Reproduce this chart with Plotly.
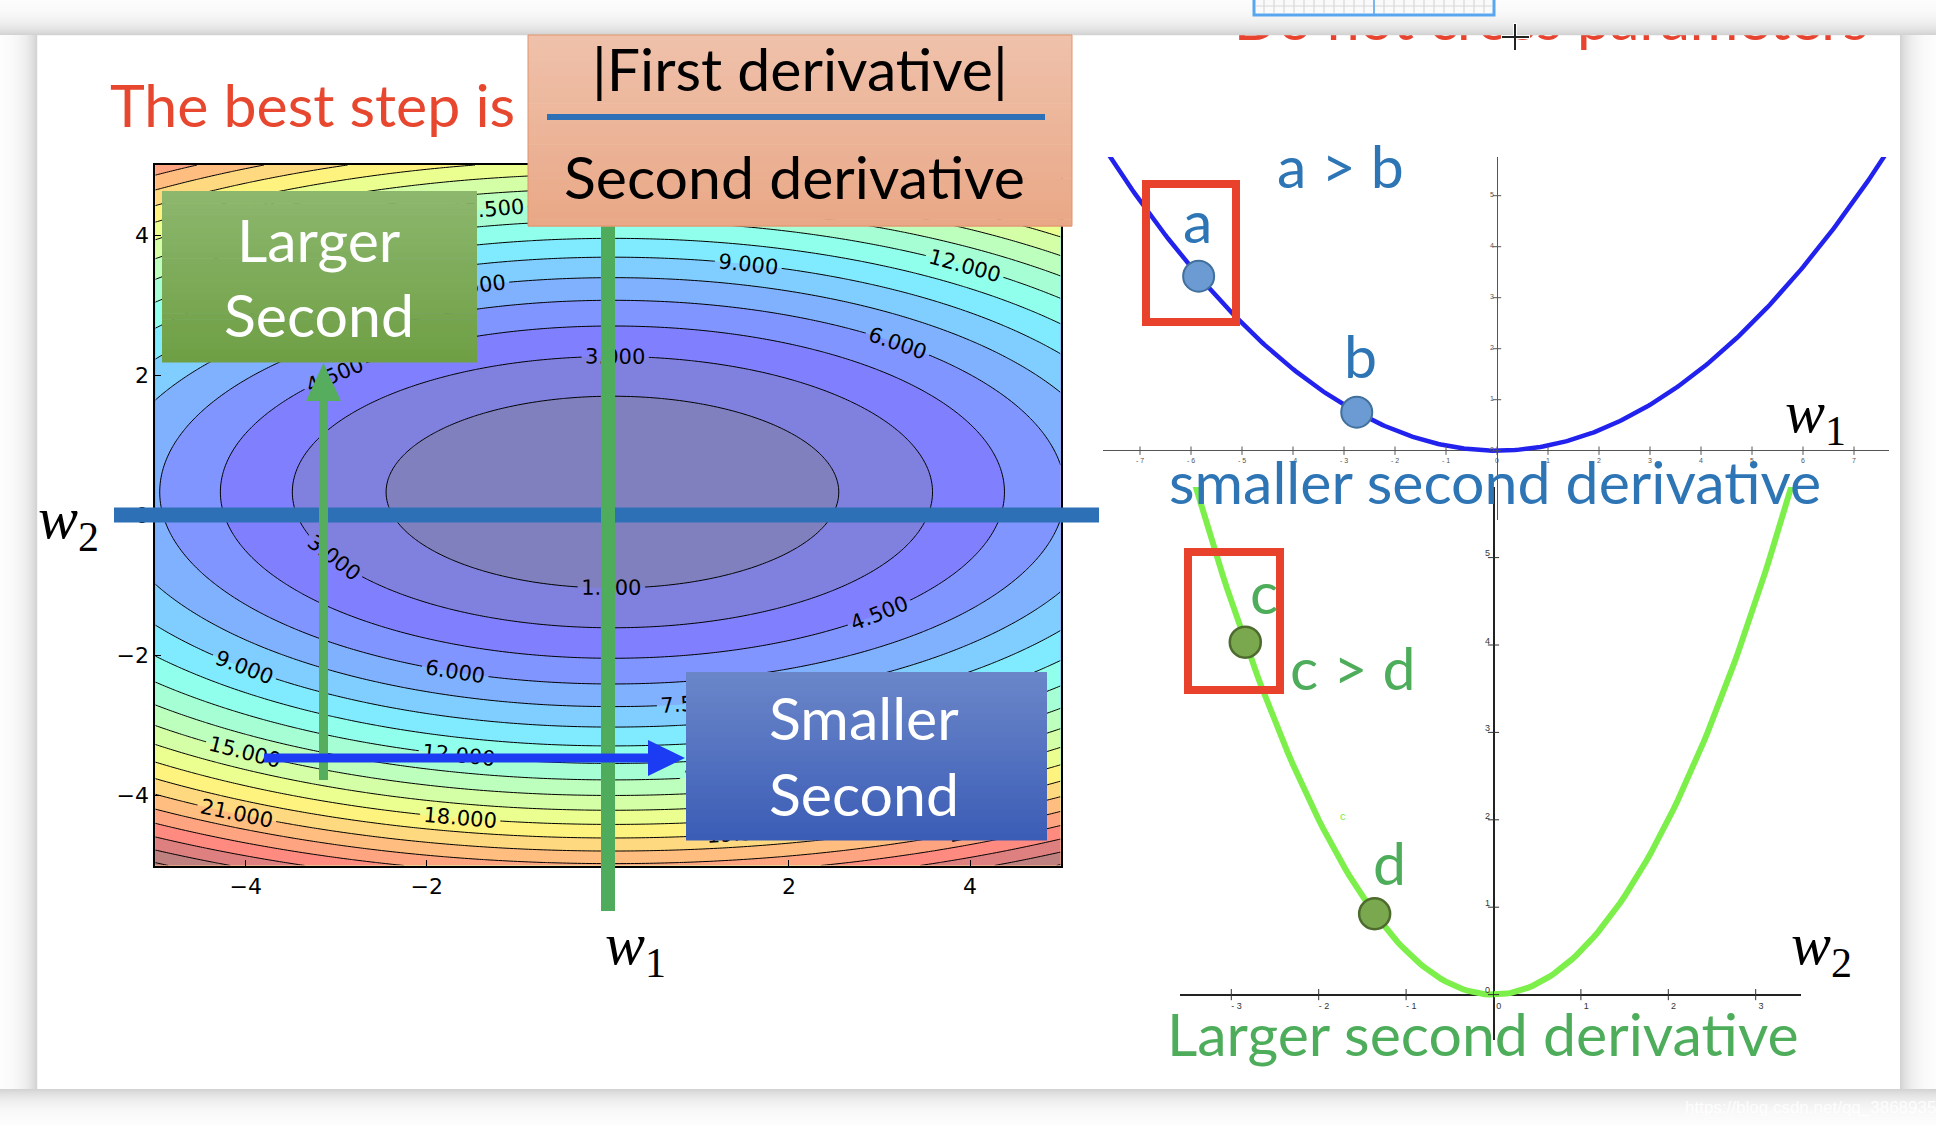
import numpy as np
import plotly.graph_objects as go

FIG_W, FIG_H = 1936, 1126

# ---------------- data ----------------
# loss surface L(w1, w2) = A*(w1-c1)^2 + B*(w2-c2)^2
LOSS_COEF_W1 = 0.24
LOSS_COEF_W2 = 0.80
LOSS_CENTER_W1 = 0.05
LOSS_CENTER_W2 = 0.33
CONTOUR_LEVEL_START = 1.5
CONTOUR_LEVEL_STEP = 1.5
CONTOUR_FILL_END = 27.0
CONTOUR_LINE_END = 28.5
CONTOUR_TICKS = [-4, -2, 0, 2, 4]
W_GRID = np.linspace(-5, 5, 241)

# 1-D cross sections of the loss
W1_CURVATURE = 0.1   # smaller second derivative
W2_CURVATURE = 0.5   # larger second derivative
W1_CURVE_X = np.linspace(-7.8, 7.8, 313)
W2_CURVE_X = np.linspace(-3.45, 3.45, 139)
W1_POINTS_X = [-5.85, -2.75]
W1_POINT_LABELS = ["a", "b"]
W2_POINTS_X = [-2.84, -1.36]
W2_POINT_LABELS = ["c", "d"]
W1_XTICKS = list(range(-7, 8))
W1_YTICKS = [0, 1, 2, 3, 4, 5]
W2_XTICKS = [-3, -2, -1, 0, 1, 2, 3]
W2_YTICKS = [0, 1, 2, 3, 4, 5]

# ---------------- helpers ----------------
def X(p):
    return p / FIG_W


def Y(p):
    return 1 - p / FIG_H


def mpl_jet(t):
    segs = {
        "r": [(0, 0), (0.35, 0), (0.66, 1), (0.89, 1), (1, 0.5)],
        "g": [(0, 0), (0.125, 0), (0.375, 1), (0.64, 1), (0.91, 0), (1, 0)],
        "b": [(0, 0.5), (0.11, 1), (0.34, 1), (0.65, 0), (1, 0)],
    }
    out = []
    for k in "rgb":
        xs = [s[0] for s in segs[k]]
        ys = [s[1] for s in segs[k]]
        out.append(float(np.interp(t, xs, ys)))
    return out


JET_STOPS = [0, 0.11, 0.125, 0.34, 0.35, 0.375, 0.5, 0.64, 0.65, 0.66, 0.89, 0.91, 1.0]
JET_SOFT = []
for t in JET_STOPS:
    r, g, b = mpl_jet(t)
    JET_SOFT.append([t, "rgb(%d,%d,%d)" % (round(127.5 * r + 127.5), round(127.5 * g + 127.5), round(127.5 * b + 127.5))])

shapes = []
annotations = []


def rect(x0, y0, x1, y1, fill=None, line_color=None, line_width=0, layer="above"):
    d = dict(type="rect", xref="paper", yref="paper", x0=X(x0), x1=X(x1), y0=Y(y1), y1=Y(y0),
             layer=layer, line=dict(width=line_width, color=line_color or "rgba(0,0,0,0)"))
    if fill:
        d["fillcolor"] = fill
    shapes.append(d)


def line(x0, y0, x1, y1, color, width):
    shapes.append(dict(type="line", xref="paper", yref="paper", x0=X(x0), x1=X(x1), y0=Y(y0), y1=Y(y1),
                       layer="above", line=dict(color=color, width=width)))


def poly(points, fill):
    path = "M " + " L ".join("%.6f,%.6f" % (X(px), Y(py)) for px, py in points) + " Z"
    shapes.append(dict(type="path", xref="paper", yref="paper", path=path, fillcolor=fill,
                       line=dict(width=0), layer="above"))


def hexrgb(h):
    h = h.lstrip("#")
    return [int(h[i:i + 2], 16) for i in (0, 2, 4)]


def grad_box(x0, y0, x1, y1, c_top, c_bot, n=28):
    a, b = hexrgb(c_top), hexrgb(c_bot)
    hgt = (y1 - y0) / n
    for i in range(n):
        f = i / (n - 1)
        c = [round(a[k] + (b[k] - a[k]) * f) for k in range(3)]
        rect(x0, y0 + i * hgt, x1, y0 + (i + 1) * hgt + 0.6, fill="rgb(%d,%d,%d)" % tuple(c))


SLIDE_FONT = 59


def ann(text, px, py, size=SLIDE_FONT, color="black", family="Lato", xanchor="center", yanchor="middle"):
    annotations.append(dict(text=text, x=X(px), y=Y(py), xref="paper", yref="paper", showarrow=False,
                            xanchor=xanchor, yanchor=yanchor,
                            font=dict(size=size, color=color, family=family)))


# ---------------- figure ----------------
fig = go.Figure()

WW1, WW2 = np.meshgrid(W_GRID, W_GRID)
Z = LOSS_COEF_W1 * (WW1 - LOSS_CENTER_W1) ** 2 + LOSS_COEF_W2 * (WW2 - LOSS_CENTER_W2) ** 2

fig.add_trace(go.Contour(
    x=W_GRID, y=W_GRID, z=Z, colorscale=JET_SOFT, showscale=False, hoverinfo="skip",
    contours=dict(start=CONTOUR_LEVEL_START, end=CONTOUR_FILL_END, size=CONTOUR_LEVEL_STEP,
                  coloring="fill", showlines=False),
    line=dict(width=0), xaxis="x", yaxis="y"))
fig.add_trace(go.Contour(
    x=W_GRID, y=W_GRID, z=Z, showscale=False, hoverinfo="skip",
    contours=dict(start=CONTOUR_LEVEL_START, end=CONTOUR_LINE_END, size=CONTOUR_LEVEL_STEP,
                  coloring="none", showlabels=True, labelformat=".3f",
                  labelfont=dict(size=21, color="black", family="DejaVu Sans")),
    line=dict(color="black", width=1), xaxis="x", yaxis="y"))

# top-right: w1 section
w1_curve_y = W1_CURVATURE * W1_CURVE_X ** 2
fig.add_trace(go.Scatter(x=W1_CURVE_X, y=w1_curve_y, mode="lines", xaxis="x2", yaxis="y2",
                         line=dict(color="#2222ee", width=4.5), hoverinfo="skip"))
w1_pts_y = [W1_CURVATURE * v ** 2 for v in W1_POINTS_X]
fig.add_trace(go.Scatter(x=W1_POINTS_X, y=w1_pts_y, mode="markers", xaxis="x2", yaxis="y2",
                         marker=dict(size=31, color="#6b9bd2", line=dict(color="#41709c", width=2)),
                         hoverinfo="skip"))
fig.add_trace(go.Scatter(x=W1_XTICKS, y=[0] * len(W1_XTICKS), mode="markers", xaxis="x2", yaxis="y2",
                         marker=dict(symbol="line-ns", size=6, line=dict(color="#555", width=1)),
                         hoverinfo="skip"))
fig.add_trace(go.Scatter(x=[0] * len(W1_YTICKS), y=W1_YTICKS, mode="markers", xaxis="x2", yaxis="y2",
                         marker=dict(symbol="line-ew", size=6, line=dict(color="#555", width=1)),
                         hoverinfo="skip"))
fig.add_trace(go.Scatter(x=W1_XTICKS, y=[-0.2] * len(W1_XTICKS), mode="text", xaxis="x2", yaxis="y2",
                         text=[str(v).replace("-", "- ") for v in W1_XTICKS], textposition="middle center",
                         textfont=dict(size=7, color="#555", family="Liberation Sans"), hoverinfo="skip"))
fig.add_trace(go.Scatter(x=[-0.06] * len(W1_YTICKS), y=W1_YTICKS, mode="text", xaxis="x2", yaxis="y2",
                         text=[str(v) for v in W1_YTICKS], textposition="middle left",
                         textfont=dict(size=7, color="#555", family="Liberation Sans"), hoverinfo="skip"))

# bottom-right: w2 section
w2_curve_y = W2_CURVATURE * W2_CURVE_X ** 2
fig.add_trace(go.Scatter(x=W2_CURVE_X, y=w2_curve_y, mode="lines", xaxis="x3", yaxis="y3",
                         line=dict(color="#7def4a", width=6), hoverinfo="skip"))
w2_pts_y = [W2_CURVATURE * v ** 2 for v in W2_POINTS_X]
fig.add_trace(go.Scatter(x=W2_POINTS_X, y=w2_pts_y, mode="markers", xaxis="x3", yaxis="y3",
                         marker=dict(size=31, color="#7aa84f", line=dict(color="#4d6b2d", width=2.5)),
                         hoverinfo="skip"))
fig.add_trace(go.Scatter(x=W2_XTICKS, y=[0] * len(W2_XTICKS), mode="markers", xaxis="x3", yaxis="y3",
                         marker=dict(symbol="line-ns", size=8, line=dict(color="#333", width=1)),
                         hoverinfo="skip"))
fig.add_trace(go.Scatter(x=[0] * len(W2_YTICKS), y=W2_YTICKS, mode="markers", xaxis="x3", yaxis="y3",
                         marker=dict(symbol="line-ew", size=8, line=dict(color="#333", width=1)),
                         hoverinfo="skip"))
fig.add_trace(go.Scatter(x=[v + 0.06 for v in W2_XTICKS], y=[-0.14] * len(W2_XTICKS), mode="text",
                         xaxis="x3", yaxis="y3",
                         text=[str(v).replace("-", "- ") for v in W2_XTICKS], textposition="middle center",
                         textfont=dict(size=9, color="#333", family="Liberation Sans"), hoverinfo="skip"))
fig.add_trace(go.Scatter(x=[-0.04] * len(W2_YTICKS), y=[v + 0.04 for v in W2_YTICKS], mode="text",
                         xaxis="x3", yaxis="y3",
                         text=[str(v) for v in W2_YTICKS], textposition="middle left",
                         textfont=dict(size=9, color="#333", family="Liberation Sans"), hoverinfo="skip"))

# red heading of the slide above, mostly hidden behind the window edge (full-figure overlay axes)
fig.add_trace(go.Scatter(x=[1551], y=[25], mode="text", text=["Do not cross parameters"],
                         textposition="middle center",
                         textfont=dict(size=SLIDE_FONT, color="#e8432f", family="Lato"),
                         xaxis="x4", yaxis="y4", hoverinfo="skip"))

# ---------------- shapes ----------------
CARD = (37, 35, 1900, 1089)


def shade(d):
    g = int(round(255 - 46 * np.exp(-d / 12.0)))
    return "rgb(%d,%d,%d)" % (g, g, g)


for yy in range(0, CARD[1]):
    rect(0, yy, FIG_W, yy + 1.2, fill=shade(CARD[1] - yy - 0.5))
for yy in range(CARD[3], FIG_H):
    rect(0, yy, FIG_W, yy + 1.2, fill=shade(yy + 0.5 - CARD[3]))
for xx in range(0, CARD[0]):
    rect(xx, CARD[1], xx + 1.2, CARD[3], fill=shade(CARD[0] - xx - 0.5))
for xx in range(CARD[2], FIG_W):
    rect(xx, CARD[1], xx + 1.2, CARD[3], fill=shade(xx + 0.5 - CARD[2]))

# window chrome at the top
rect(1254, -2, 1494, 15, fill="#fafafa")
for gx in range(1264, 1494, 10):
    line(gx, 0, gx, 13, "#d0d0d0", 1)
line(1256, 6, 1492, 6, "#d8d8d8", 1)
line(1374, 0, 1374, 14, "#58a6f0", 1.5)
rect(1254, -2, 1494, 15, line_color="#58a6f0", line_width=3)
# cursor
line(1515, 23, 1515, 51, "white", 4)
line(1501, 37, 1530, 37, "white", 4)
line(1515, 24, 1515, 50, "#222", 2)
line(1502, 37, 1529, 37, "#222", 2)

# axis guides on the contour plot
rect(114, 507.5, 1099, 522.5, fill="#2e70b6")
rect(601, 226, 615, 911, fill="#4fac5c")

# boxes
grad_box(528, 35, 1072, 226, "#efc1aa", "#e9a887")
rect(528, 35, 1072, 226, line_color="#e0946c", line_width=1)
rect(547, 114, 1045, 120, fill="#2e70b6")
grad_box(162, 191, 477, 362, "#8cb76d", "#6f9f45")
grad_box(686, 672, 1047, 840, "#6a86c9", "#3c5db6")

# arrows
rect(319, 396, 328, 780, fill="#55ad5d")
poly([(323.5, 363), (306, 401), (341, 401)], "#55ad5d")
rect(264, 753.5, 650, 762.5, fill="#1b3cf2")
poly([(685, 758), (648, 740), (648, 776)], "#1b3cf2")

# red frames
rect(1146, 184, 1236, 322, line_color="#e8412c", line_width=8)
rect(1188, 552, 1280, 690, line_color="#e8412c", line_width=8)

# ---------------- texts ----------------
RED = "#e8472f"
BLUE = "#2e75b6"
GREEN = "#4ead5b"
ann("The best step is", 312, 104, color=RED)
ann("|First derivative|", 800, 68)
ann("Second derivative", 794, 177)
ann("Larger", 319, 240, color="white")
ann("Second", 319, 314, color="white")
ann("Smaller", 864, 717, color="white")
ann("Second", 864, 793, color="white")
ann("a &gt; b", 1340, 166, color=BLUE)
ann("smaller second derivative", 1495, 481, color=BLUE)
ann("c &gt; d", 1353, 667, color=GREEN)
ann("Larger second derivative", 1483, 1033, color=GREEN)
ann("c", 1343, 816, size=11, color="#77ee44", family="Liberation Sans")
ann("<i>w</i><sub>2</sub>", 68, 522, size=60, family="Liberation Serif")
ann("<i>w</i><sub>1</sub>", 635, 948, size=60, family="Liberation Serif")
ann("<i>w</i><sub>1</sub>", 1815, 417, size=60, family="Liberation Serif")
ann("<i>w</i><sub>2</sub>", 1821, 948, size=60, family="Liberation Serif")
ann("https://blog.csdn.net/qq_38689359", 1683, 1107, size=17, color="rgba(255,255,255,0.9)",
    family="Liberation Sans", xanchor="left")

for lbl, px, py, dx, dy in zip(W1_POINT_LABELS, W1_POINTS_X, w1_pts_y, [-1, 4], [56, 57]):
    annotations.append(dict(text=lbl, x=px, y=py, xref="x2", yref="y2", showarrow=False,
                            xshift=dx, yshift=dy, font=dict(size=SLIDE_FONT, color=BLUE, family="Lato")))
for lbl, px, py, dx, dy in zip(W2_POINT_LABELS, W2_POINTS_X, w2_pts_y, [19, 15], [51, 51]):
    annotations.append(dict(text=lbl, x=px, y=py, xref="x3", yref="y3", showarrow=False,
                            xshift=dx, yshift=dy, font=dict(size=SLIDE_FONT, color=GREEN, family="Lato")))

# ---------------- layout ----------------
contour_axis = dict(range=[-5, 5], tickvals=CONTOUR_TICKS, ticks="inside", ticklen=6, tickcolor="black",
                    showline=True, mirror=True, linecolor="black", linewidth=1.5, showgrid=False,
                    zeroline=False, tickfont=dict(family="DejaVu Sans", size=22, color="black"))
plain_axis = dict(showgrid=False, showticklabels=False, ticks="", showline=False, zeroline=True)

X2_ORIGIN, Y2_ORIGIN, X2_SCALE = 1497.0, 450.7, 51.0
X3_ORIGIN, Y3_ORIGIN, X3_SCALE = 1493.5, 994.6, 87.4

fig.update_layout(
    width=FIG_W, height=FIG_H, margin=dict(l=0, r=0, t=0, b=0),
    paper_bgcolor="white", plot_bgcolor="rgba(0,0,0,0)", showlegend=False,
    xaxis=dict(domain=[X(155.2), X(1060.6)], anchor="y", **contour_axis),
    yaxis=dict(domain=[Y(865.5), Y(165)], anchor="x", **contour_axis),
    xaxis2=dict(domain=[X(1103), X(1889)], range=[(1103 - X2_ORIGIN) / X2_SCALE, (1889 - X2_ORIGIN) / X2_SCALE],
                anchor="y2", zerolinecolor="#555", zerolinewidth=1.2, **plain_axis),
    yaxis2=dict(domain=[Y(520), Y(157)], range=[(Y2_ORIGIN - 520) / X2_SCALE, (Y2_ORIGIN - 157) / X2_SCALE],
                anchor="x2", zerolinecolor="#555", zerolinewidth=1.2, **plain_axis),
    xaxis3=dict(domain=[X(1180), X(1801)], range=[(1180 - X3_ORIGIN) / X3_SCALE, (1801 - X3_ORIGIN) / X3_SCALE],
                anchor="y3", zerolinecolor="#222", zerolinewidth=1.6, **plain_axis),
    yaxis3=dict(domain=[Y(1040), Y(487)], range=[(Y3_ORIGIN - 1040) / X3_SCALE, (Y3_ORIGIN - 487) / X3_SCALE],
                anchor="x3", zerolinecolor="#222", zerolinewidth=1.6, **plain_axis),
    xaxis4=dict(domain=[0, 1], range=[0, FIG_W], anchor="y4", visible=False),
    yaxis4=dict(domain=[0, 1], range=[FIG_H, 0], anchor="x4", visible=False),
    shapes=shapes, annotations=annotations,
)

fig.write_html("out.html", config={"displayModeBar": False},
               post_script="document.body.style.margin='0';document.body.style.overflow='hidden';")
